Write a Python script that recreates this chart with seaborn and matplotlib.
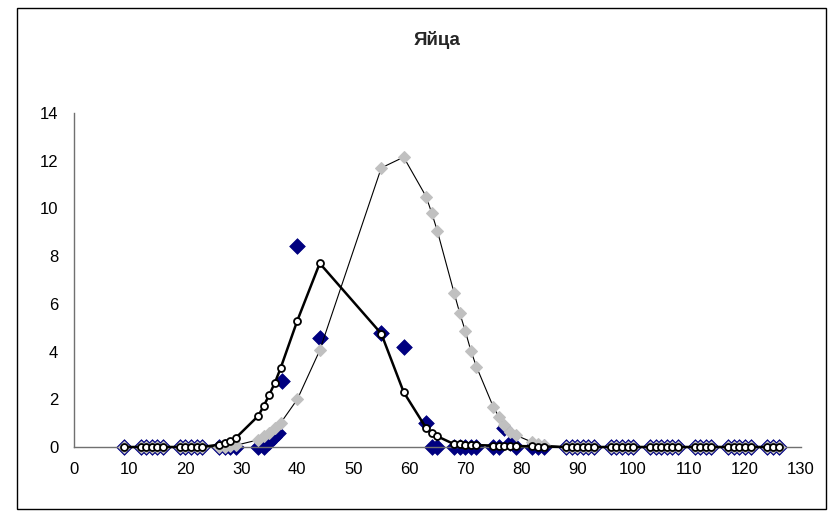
import numpy as np
import pandas as pd
import matplotlib
matplotlib.use('Agg')
import matplotlib.pyplot as plt
import seaborn as sns
from matplotlib.patches import Rectangle

#### data ####
x_vals = [9, 12, 13, 14, 15, 16, 19, 20, 21, 22, 23, 26, 27, 28, 29,
          33, 34, 35, 36, 37, 40, 44, 55, 59, 63, 64, 65,
          68, 69, 70, 71, 72, 75, 76, 77, 78, 79, 82, 83, 84,
          88, 89, 90, 91, 92, 93, 96, 97, 98, 99, 100,
          103, 104, 105, 106, 107, 108, 111, 112, 113, 114,
          117, 118, 119, 120, 121, 124, 125, 126]

# black line, white circles
fit_vals = [0]*11 + [0.1, 0.18, 0.25, 0.38,
            1.3, 1.72, 2.2, 2.7, 3.3, 5.3, 7.7, 4.75, 2.3, 0.8, 0.57, 0.45,
            0.12, 0.11, 0.1, 0.09, 0.08, 0.06, 0.05, 0.05, 0.04, 0.04, 0.03, 0.02, 0.02] + [0]*29

# grey diamonds, thin line
grey_vals = [0]*11 + [0.01, 0.02, 0.04, 0.07,
             0.3, 0.45, 0.6, 0.8, 1.0, 2.0, 4.05, 11.7, 12.15, 10.5, 9.82, 9.07,
             6.47, 5.63, 4.87, 4.04, 3.37, 1.69, 1.27, 0.92, 0.64, 0.5, 0.2, 0.11, 0.08] + [0]*29

# navy diamonds (observed)
obs_x = [9, 12, 13, 14, 15, 16, 19, 20, 21, 22, 23, 26, 27, 28, 29,
         33, 34, 35, 35.8, 36.6, 37.2, 40, 44, 55, 59, 63, 64, 65,
         68, 69, 70, 71, 72, 75, 76, 77, 78, 79, 82, 83, 84,
         88, 89, 90, 91, 92, 93, 96, 97, 98, 99, 100,
         103, 104, 105, 106, 107, 108, 111, 112, 113, 114,
         117, 118, 119, 120, 121, 124, 125, 126]
obs_vals = [0]*15 + [0, 0, 0.2, 0.4, 0.6, 2.75, 8.42, 4.55, 4.78, 4.19, 1.0, 0, 0,
            0, 0, 0, 0, 0, 0, 0, 0.8, 0.15, 0, 0, 0, 0] + [0]*29

df = pd.DataFrame({'x': x_vals, 'fit': fit_vals, 'grey': grey_vals})
obs = pd.DataFrame({'x': obs_x, 'y': obs_vals})

sns.set_style('white')
plt.rcParams['font.family'] = ['Liberation Sans', 'DejaVu Sans']

fig = plt.figure(figsize=(8.34, 5.17), dpi=100)
ax = fig.add_axes([73.5/834, 70/517, (801-73.5)/834, (447-113)/517])

sns.scatterplot(data=obs, x='x', y='y', ax=ax, marker='D', s=64,
                color='#000080', edgecolor='#000080', linewidth=0.5, zorder=2, clip_on=False)
sns.lineplot(data=df, x='x', y='grey', ax=ax, color='black', linewidth=0.8,
             marker='D', markersize=6.5, markerfacecolor='#C0C0C0',
             markeredgecolor='#C0C0C0', zorder=3, clip_on=False)
sns.lineplot(data=df, x='x', y='fit', ax=ax, color='black', linewidth=1.8,
             marker='o', markersize=5, markerfacecolor='white',
             markeredgecolor='black', markeredgewidth=1.3, zorder=4, clip_on=False)

ax.set_xlim(0, 130)
ax.set_ylim(0, 14)
ax.set_xticks(np.arange(0, 131, 10))
ax.set_yticks(np.arange(0, 15, 2))
ax.set_xlabel('')
ax.set_ylabel('')
for s in ['top', 'right']:
    ax.spines[s].set_visible(False)
for s in ['left', 'bottom']:
    ax.spines[s].set_color('#707070')
    ax.spines[s].set_linewidth(1)
ax.tick_params(axis='both', direction='out', length=5, width=1, color='#707070',
               labelsize=12, labelcolor='black')
ax.tick_params(axis='x', pad=6)
ax.tick_params(axis='y', pad=6)

fig.text(437/834, 1 - 40/517, 'Яйца', ha='center', va='center',
         fontsize=13.5, fontweight='bold')

# outer chart border
fig.patches.append(Rectangle((17/834, 8/517), (826-17)/834, (509-8)/517,
                             transform=fig.transFigure, fill=False,
                             edgecolor='black', linewidth=1))

fig.savefig('out.png', dpi=100)
